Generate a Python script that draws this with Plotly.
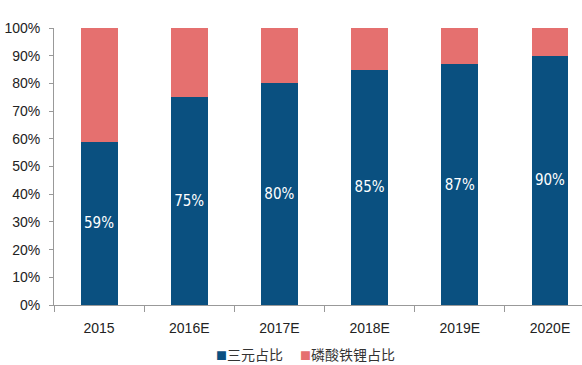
import plotly.graph_objects as go

categories = ["2015", "2016E", "2017E", "2018E", "2019E", "2020E"]
ternary_share = [59, 75, 80, 85, 87, 90]
lfp_share = [41, 25, 20, 15, 13, 10]
ternary_labels = ["59%", "75%", "80%", "85%", "87%", "90%"]
yticks = [0, 10, 20, 30, 40, 50, 60, 70, 80, 90, 100]
ytick_labels = [f"{v}%" for v in yticks]
series_names = ["三元占比", "磷酸铁锂占比"]

blue = "#0A5080"
red = "#E5706F"

W, H = 582, 365
ML, MR, MT, MB = 54, 0, 28, 60
pw, ph = W - ML - MR, H - MT - MB

fig = go.Figure()
fig.add_trace(go.Bar(
    x=categories, y=ternary_share, name=series_names[0],
    marker=dict(color=blue, line=dict(width=0)),
    text=ternary_labels, textposition="inside", insidetextanchor="middle",
    textfont=dict(color="white", size=15, family="DejaVu Sans Condensed, Liberation Sans Narrow, sans-serif"),
    textangle=0, width=0.41, showlegend=False,
))
fig.add_trace(go.Bar(
    x=categories, y=lfp_share, name=series_names[1],
    marker=dict(color=red, line=dict(width=0)),
    textposition="none", width=0.41, showlegend=False,
))

def legend_item(name, color):
    return (f"<span style='color:{color};font-size:11px'>■</span>"
            f"<span style='font-size:14px'>{name}</span>")

legend_pos = [(214, 354), (298, 354)]
legend_colors = [blue, red]
for name, color, (px, py) in zip(series_names, legend_colors, legend_pos):
    fig.add_annotation(
        x=(px - ML) / pw, y=(H - MB - py) / ph, xref="paper", yref="paper",
        showarrow=False, text=legend_item(name, color),
        xanchor="left", yanchor="middle",
        font=dict(family="Noto Sans CJK SC, sans-serif", size=14, color="#333"),
    )

fig.update_layout(
    barmode="stack",
    width=W, height=H,
    margin=dict(l=ML, r=MR, t=MT, b=MB, autoexpand=False),
    plot_bgcolor="white", paper_bgcolor="white",
    font=dict(family="Liberation Sans, Arial, sans-serif", size=14, color="#222"),
    showlegend=False,
    xaxis=dict(
        type="category", range=[-0.5, 5.355], automargin=False,
        showline=True, linecolor="#999", linewidth=1,
        ticks="outside", tickson="boundaries", ticklen=6, tickcolor="#999",
        showgrid=False, tickfont=dict(size=14), ticklabelstandoff=10,
    ),
    yaxis=dict(
        range=[0, 100], tickvals=yticks, ticktext=ytick_labels, automargin=False,
        showline=True, linecolor="#999", linewidth=1,
        ticks="outside", ticklen=4, tickcolor="#999",
        showgrid=False, zeroline=False, tickfont=dict(size=14), ticklabelstandoff=6,
    ),
)

fig.write_html(
    "out.html",
    config={"displayModeBar": False},
    post_script="document.body.style.margin='0';document.body.style.overflow='hidden';",
)
